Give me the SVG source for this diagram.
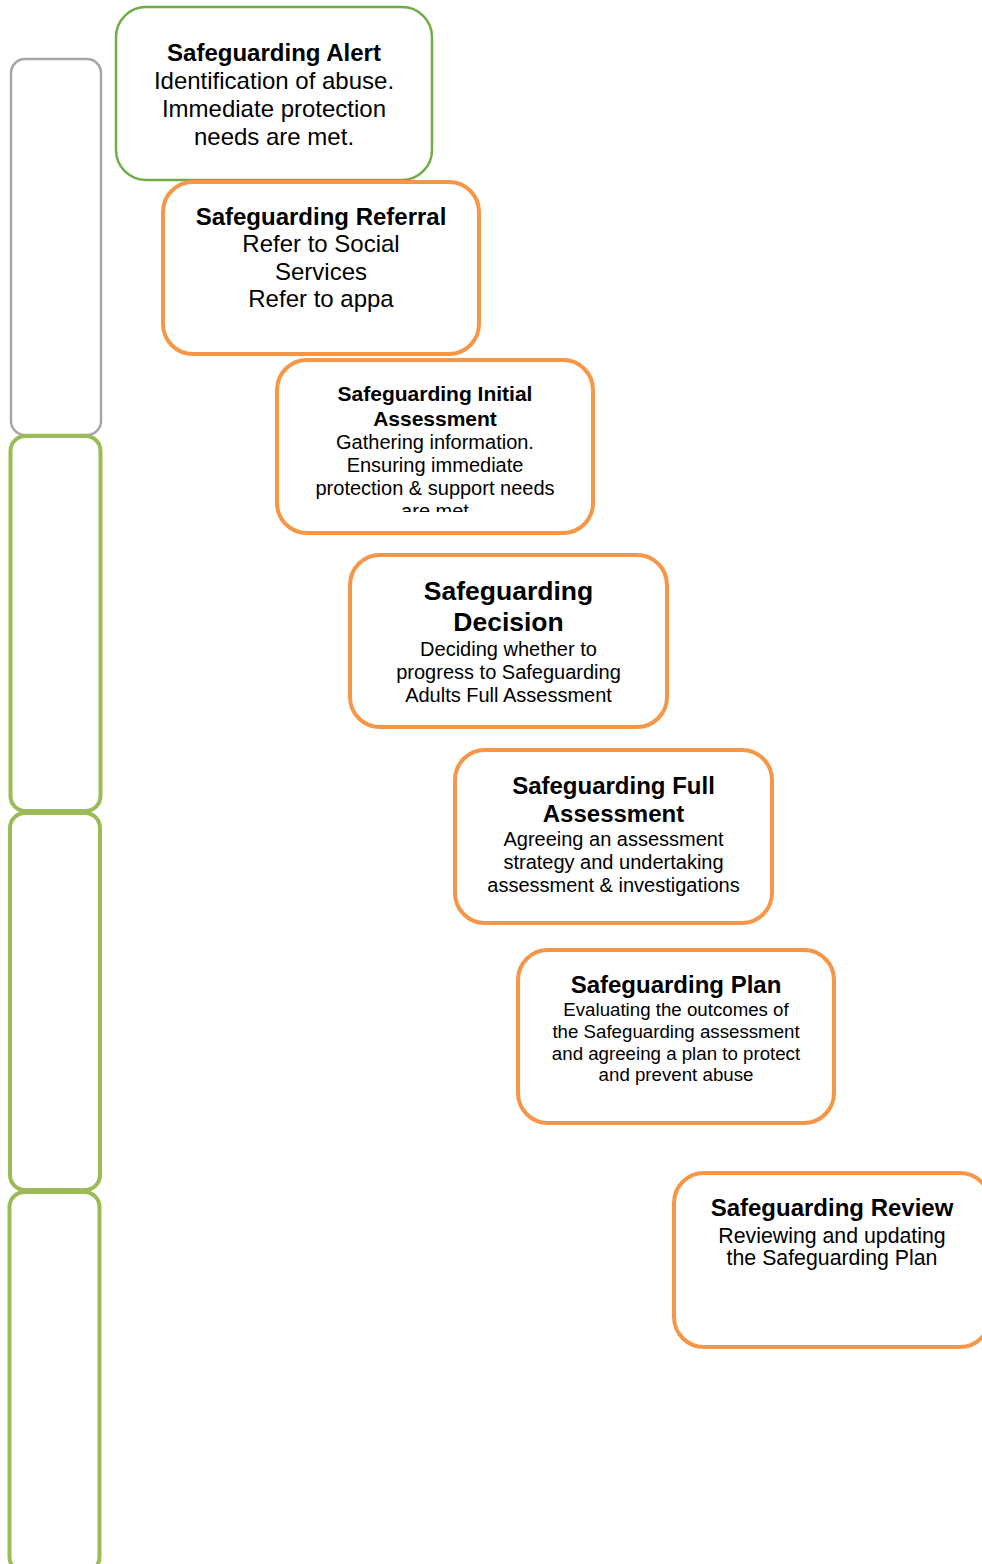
<svg xmlns="http://www.w3.org/2000/svg" width="982" height="1564" viewBox="0 0 982 1564">
<style>
  .t { font-family: "Liberation Sans", Arial, sans-serif; fill: #000; text-anchor: middle; }
  .b { font-weight: bold; }
  .box { fill: #fff; }
  .orange { stroke: #f79646; stroke-width: 4; }
  .alert { stroke: #70ad47; stroke-width: 2.5; }
  .lgreen { fill: none; stroke: #9bbb59; stroke-width: 4; }
  .lgray { fill: none; stroke: #a6a6a6; stroke-width: 2.5; }
</style>
<defs>
  <clipPath id="clipInit"><rect x="277" y="360" width="316" height="152"/></clipPath>
</defs>
<rect width="982" height="1564" fill="#fff"/>

<g id="phase-bars">
  <rect id="bar1" class="lgray" x="11" y="59" width="90" height="376" rx="14"/>
  <rect id="bar2" class="lgreen" x="10.5" y="436" width="90" height="375" rx="15"/>
  <rect id="bar3" class="lgreen" x="10" y="813" width="90" height="377" rx="15"/>
  <rect id="bar4" class="lgreen" x="9.5" y="1192" width="90" height="380" rx="15"/>
</g>

<g id="connectors"></g>

<g id="alert">
  <rect class="box alert" x="116" y="7" width="316" height="173" rx="30"/>
  <text class="t b" x="274" y="61" font-size="24">Safeguarding Alert</text>
  <text class="t" x="274" y="89" font-size="24">Identification of abuse.</text>
  <text class="t" x="274" y="117" font-size="24">Immediate protection</text>
  <text class="t" x="274" y="144.5" font-size="24">needs are met.</text>
</g>

<g id="referral">
  <rect class="box orange" x="163" y="182" width="316" height="172" rx="30"/>
  <text class="t b" x="321" y="225" font-size="24">Safeguarding Referral</text>
  <text class="t" x="321" y="252" font-size="24">Refer to Social</text>
  <text class="t" x="321" y="279.5" font-size="24">Services</text>
  <text class="t" x="321" y="307" font-size="24">Refer to appa</text>
</g>

<g id="initial-assessment">
  <rect class="box orange" x="277" y="360" width="316" height="173" rx="30"/>
  <g clip-path="url(#clipInit)">
    <text class="t b" x="435" y="401" font-size="21">Safeguarding Initial</text>
    <text class="t b" x="435" y="425.5" font-size="21">Assessment</text>
    <text class="t" x="435" y="449" font-size="20">Gathering information.</text>
    <text class="t" x="435" y="472" font-size="20">Ensuring immediate</text>
    <text class="t" x="435" y="495" font-size="20">protection &amp; support needs</text>
    <text class="t" x="435" y="518" font-size="20">are met</text>
  </g>
</g>

<g id="decision">
  <rect class="box orange" x="350" y="555" width="317" height="172" rx="30"/>
  <text class="t b" x="508.5" y="600" font-size="26.5">Safeguarding</text>
  <text class="t b" x="508.5" y="630.5" font-size="26.5">Decision</text>
  <text class="t" x="508.5" y="656" font-size="20">Deciding whether to</text>
  <text class="t" x="508.5" y="679" font-size="20">progress to Safeguarding</text>
  <text class="t" x="508.5" y="702" font-size="20">Adults Full Assessment</text>
</g>

<g id="full-assessment">
  <rect class="box orange" x="455" y="750" width="317" height="173" rx="30"/>
  <text class="t b" x="613.5" y="794" font-size="24">Safeguarding Full</text>
  <text class="t b" x="613.5" y="822" font-size="24">Assessment</text>
  <text class="t" x="613.5" y="846" font-size="20">Agreeing an assessment</text>
  <text class="t" x="613.5" y="869" font-size="20">strategy and undertaking</text>
  <text class="t" x="613.5" y="892" font-size="20">assessment &amp; investigations</text>
</g>

<g id="plan">
  <rect class="box orange" x="518" y="950" width="316" height="173" rx="30"/>
  <text class="t b" x="676" y="993" font-size="24">Safeguarding Plan</text>
  <text class="t" x="676" y="1016" font-size="18.7">Evaluating the outcomes of</text>
  <text class="t" x="676" y="1038.3" font-size="18.7">the Safeguarding assessment</text>
  <text class="t" x="676" y="1060" font-size="18.7">and agreeing a plan to protect</text>
  <text class="t" x="676" y="1081" font-size="18.7">and prevent abuse</text>
</g>

<g id="review">
  <rect class="box orange" x="674" y="1173" width="316" height="174" rx="30"/>
  <text class="t b" x="832" y="1216" font-size="24">Safeguarding Review</text>
  <text class="t" x="832" y="1242.5" font-size="21.3">Reviewing and updating</text>
  <text class="t" x="832" y="1265" font-size="21.3">the Safeguarding Plan</text>
</g>
</svg>
